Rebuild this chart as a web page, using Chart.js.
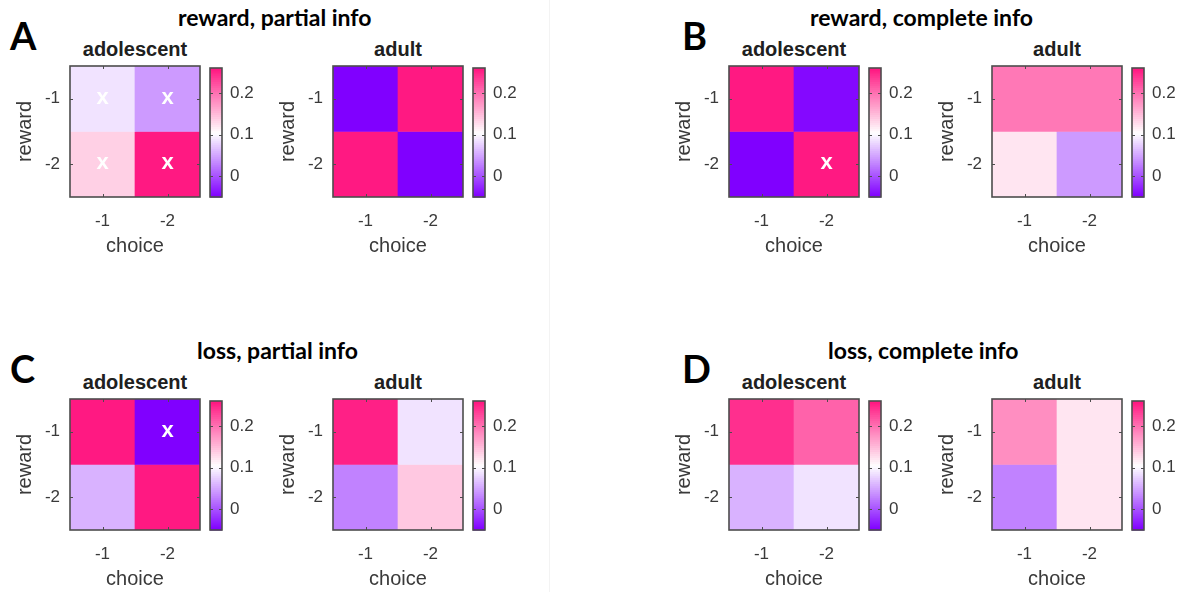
<!DOCTYPE html>
<html>
<head>
<meta charset="utf-8">
<script src="https://cdn.jsdelivr.net/npm/chart.js@4.4.0/dist/chart.umd.min.js"></script>
<style>
  html, body { margin: 0; padding: 0; background: #fff; }
  #fig { position: relative; width: 1185px; height: 592px; overflow: hidden; background: #fff; }
  #fig canvas { position: absolute; }
  .txt { position: absolute; white-space: nowrap; line-height: 1; }
  .letter { font-family: Lato, "Open Sans", sans-serif; font-weight: 700; font-size: 38px; color: #000; }
  .title { font-family: Lato, "Open Sans", sans-serif; font-weight: 700; font-size: 23px; color: #000; }
  .sub { font-family: "Liberation Sans", Arial, sans-serif; font-weight: 700; font-size: 20px; color: #202020; transform: translateX(-50%); }
  .sep { position: absolute; background: #f3f3f3; }
</style>
</head>
<body>
<div id="fig"></div>
<script>
// Categories and tick labels
const choiceLabels = ['-1', '-2'];
const rewardLevels = [-1, -2];
const colorbarTicks = [0, 0.1, 0.2];
const colorLimits = [-0.05, 0.26];

// Cell values, rows = reward -1 / -2, columns = choice -1 / -2
const rewardPartialAdolescent = [[0.090, 0.045], [0.136, 0.260]];
const rewardPartialAdult = [[-0.050, 0.260], [0.260, -0.050]];
const rewardCompleteAdolescent = [[0.260, -0.042], [-0.050, 0.260]];
const rewardCompleteAdult = [[0.195, 0.195], [0.122, 0.045]];
const lossPartialAdolescent = [[0.260, -0.050], [0.060, 0.260]];
const lossPartialAdult = [[0.255, 0.090], [0.030, 0.139]];
const lossCompleteAdolescent = [[0.245, 0.208], [0.060, 0.090]];
const lossCompleteAdult = [[0.180, 0.122], [0.030, 0.122]];

// Significant cells (marked with x)
const rewardPartialAdolescentSig = [[true, true], [true, true]];
const rewardCompleteAdolescentSig = [[false, false], [false, true]];
const lossPartialAdolescentSig = [[false, true], [false, false]];
const noSig = [[false, false], [false, false]];

// Colormap: purple -> white -> pink, 64 discrete levels
const N_LEVELS = 64;
const LOW = [128, 0, 255], MID = [255, 255, 255], HIGH = [255, 25, 130];
function levelColor(k) {
  const s = k / (N_LEVELS - 1);
  let a, b, f;
  if (s < 0.5) { a = LOW; b = MID; f = s / 0.5; } else { a = MID; b = HIGH; f = (s - 0.5) / 0.5; }
  const c = a.map((x, i) => Math.round(x + (b[i] - x) * f));
  return `rgb(${c[0]},${c[1]},${c[2]})`;
}
function valueColor(v) {
  const t = (v - colorLimits[0]) / (colorLimits[1] - colorLimits[0]);
  const k = Math.max(0, Math.min(N_LEVELS - 1, Math.floor(t * N_LEVELS)));
  return levelColor(k);
}

const AXIS_FONT = "'Liberation Sans', Arial, sans-serif";
const AXIS_COLOR = '#3a3a3a';
const EDGE_COLOR = '#4d4d4d';
const BOX_W = 130, BOX_H = 131;

const fig = document.getElementById('fig');

function addText(cls, text, left, top) {
  const d = document.createElement('div');
  d.className = 'txt ' + cls;
  d.textContent = text;
  d.style.left = left + 'px';
  d.style.top = top + 'px';
  fig.appendChild(d);
  return d;
}
function addCanvas(left, top, w, h) {
  const c = document.createElement('canvas');
  c.width = w; c.height = h;
  c.style.left = left + 'px'; c.style.top = top + 'px';
  c.style.width = w + 'px'; c.style.height = h + 'px';
  fig.appendChild(c);
  return c;
}
// Keep tick labels from reserving extra space around the plot area
function noLabelOverhang(s) {
  s.paddingTop = 0; s.paddingBottom = 0; s.paddingLeft = 0; s.paddingRight = 0;
}

// Box outline, inward tick marks and significance markers
const heatmapDecor = {
  id: 'heatmapDecor',
  afterDatasetsDraw(chart, args, opts) {
    const { ctx, chartArea: a, scales } = chart;
    ctx.save();
    ctx.font = `bold 22px ${AXIS_FONT}`;
    ctx.fillStyle = '#ffffff';
    ctx.textAlign = 'center';
    ctx.textBaseline = 'middle';
    opts.sig.forEach((row, i) => row.forEach((on, j) => {
      if (!on) return;
      ctx.fillText('x', scales.x.getPixelForValue(j), scales.y.getPixelForValue(rewardLevels[i]) - 1);
    }));
    ctx.strokeStyle = EDGE_COLOR;
    ctx.lineWidth = 1;
    ctx.beginPath();
    choiceLabels.forEach((_, j) => {
      const x = Math.round(scales.x.getPixelForValue(j)) + 0.5;
      ctx.moveTo(x, a.bottom); ctx.lineTo(x, a.bottom - 3);
      ctx.moveTo(x, a.top); ctx.lineTo(x, a.top + 3);
    });
    rewardLevels.forEach(r => {
      const y = Math.round(scales.y.getPixelForValue(r)) + 0.5;
      ctx.moveTo(a.left, y); ctx.lineTo(a.left + 3, y);
      ctx.moveTo(a.right, y); ctx.lineTo(a.right - 3, y);
    });
    ctx.stroke();
    ctx.lineWidth = 1.6;
    ctx.strokeRect(a.left, a.top, a.right - a.left, a.bottom - a.top);
    ctx.restore();
  }
};

function heatmap(values, sig, boxL, boxT) {
  const padL = 70, padT = 2, padR = 4, padB = 64;
  const cv = addCanvas(boxL - padL, boxT - padT, padL + BOX_W + padR, padT + BOX_H + padB);
  const datasets = rewardLevels.map((r, i) => ({
    data: choiceLabels.map(() => [r - 0.5, r + 0.5]),
    backgroundColor: values[i].map(valueColor),
    borderWidth: 0,
    barPercentage: 1,
    categoryPercentage: 1,
    grouped: false
  }));
  return new Chart(cv, {
    type: 'bar',
    data: { labels: choiceLabels, datasets },
    options: {
      responsive: false,
      animation: false,
      events: [],
      layout: { padding: { left: 0, top: padT, right: padR, bottom: 0 } },
      plugins: { legend: { display: false }, tooltip: { enabled: false }, heatmapDecor: { sig } },
      scales: {
        x: {
          grid: { display: false, drawTicks: false },
          border: { display: false },
          ticks: { color: AXIS_COLOR, font: { family: AXIS_FONT, size: 17 }, padding: 14, maxRotation: 0 },
          title: { display: true, text: 'choice', color: AXIS_COLOR, font: { family: AXIS_FONT, size: 20 }, padding: { top: 0, bottom: 3 } },
          afterFit(s) { s.height = padB; noLabelOverhang(s); }
        },
        y: {
          min: rewardLevels[rewardLevels.length - 1] - 0.5,
          max: rewardLevels[0] + 0.5,
          grid: { display: false, drawTicks: false },
          border: { display: false },
          afterBuildTicks(s) { s.ticks = rewardLevels.map(v => ({ value: v })); },
          ticks: { color: AXIS_COLOR, font: { family: AXIS_FONT, size: 17 }, padding: 10 },
          title: { display: true, text: 'reward', color: AXIS_COLOR, font: { family: AXIS_FONT, size: 20 }, padding: { top: 13, bottom: 0 } },
          afterFit(s) { s.width = padL; noLabelOverhang(s); }
        }
      }
    },
    plugins: [heatmapDecor]
  });
}

// Discrete colour strips of the colorbar, outline and tick marks
const colorbarDecor = {
  id: 'colorbarDecor',
  beforeDatasetsDraw(chart) {
    const { ctx, chartArea: a, scales } = chart;
    const y = scales.y;
    const step = (colorLimits[1] - colorLimits[0]) / N_LEVELS;
    ctx.save();
    for (let k = 0; k < N_LEVELS; k++) {
      const y0 = y.getPixelForValue(colorLimits[0] + k * step);
      const y1 = y.getPixelForValue(colorLimits[0] + (k + 1) * step);
      ctx.fillStyle = levelColor(k);
      ctx.fillRect(a.left, y1, a.right - a.left, y0 - y1 + 0.6);
    }
    ctx.strokeStyle = EDGE_COLOR;
    ctx.lineWidth = 1;
    ctx.beginPath();
    colorbarTicks.forEach(v => {
      const py = Math.round(y.getPixelForValue(v)) + 0.5;
      ctx.moveTo(a.right, py); ctx.lineTo(a.right - 3, py);
      ctx.moveTo(a.left, py); ctx.lineTo(a.left + 3, py);
    });
    ctx.stroke();
    ctx.lineWidth = 1.6;
    ctx.strokeRect(a.left, a.top, a.right - a.left, a.bottom - a.top);
    ctx.restore();
  }
};

function colorbar(cbL, boxT) {
  const cbW = 12, cbH = 129, padT = 2, padR = 50;
  const cv = addCanvas(cbL - 1, boxT + 2 - padT, 1 + cbW + padR, padT + cbH + 2);
  return new Chart(cv, {
    type: 'bar',
    data: { labels: [''], datasets: [{ data: [] }] },
    options: {
      responsive: false,
      animation: false,
      events: [],
      layout: { padding: { left: 1, top: padT, right: 0, bottom: 2 } },
      plugins: { legend: { display: false }, tooltip: { enabled: false } },
      scales: {
        x: { display: false },
        y: {
          position: 'right',
          min: colorLimits[0],
          max: colorLimits[1],
          grid: { display: false, drawTicks: false },
          border: { display: false },
          afterBuildTicks(s) { s.ticks = colorbarTicks.map(v => ({ value: v })); },
          ticks: { color: AXIS_COLOR, font: { family: AXIS_FONT, size: 17 }, padding: 8 },
          afterFit(s) { s.width = padR; noLabelOverhang(s); }
        }
      }
    },
    plugins: [colorbarDecor]
  });
}

// Figure layout: four panels, each with adolescent and adult maps
const panels = [
  { letter: 'A', title: 'reward, partial info', lx: 10, tx: 178, top: 66, left: 70,
    maps: [['adolescent', rewardPartialAdolescent, rewardPartialAdolescentSig], ['adult', rewardPartialAdult, noSig]] },
  { letter: 'B', title: 'reward, complete info', lx: 682, tx: 810, top: 66, left: 729,
    maps: [['adolescent', rewardCompleteAdolescent, rewardCompleteAdolescentSig], ['adult', rewardCompleteAdult, noSig]] },
  { letter: 'C', title: 'loss, partial info', lx: 10, tx: 197, top: 399, left: 70,
    maps: [['adolescent', lossPartialAdolescent, lossPartialAdolescentSig], ['adult', lossPartialAdult, noSig]] },
  { letter: 'D', title: 'loss, complete info', lx: 682, tx: 828, top: 399, left: 729,
    maps: [['adolescent', lossCompleteAdolescent, noSig], ['adult', lossCompleteAdult, noSig]] }
];

const sep = document.createElement('div');
sep.className = 'sep';
sep.style.left = '549px'; sep.style.top = '0px'; sep.style.width = '1px'; sep.style.height = '592px';
fig.appendChild(sep);

panels.forEach(p => {
  addText('letter', p.letter, p.lx, p.top - 50);
  addText('title', p.title, p.tx, p.top - 60);
  p.maps.forEach(([name, values, sig], m) => {
    const boxL = p.left + m * 263;
    addText('sub', name, boxL + BOX_W / 2, p.top - 27);
    heatmap(values, sig, boxL, p.top);
    colorbar(boxL + 140, p.top);
  });
});
</script>
</body>
</html>
